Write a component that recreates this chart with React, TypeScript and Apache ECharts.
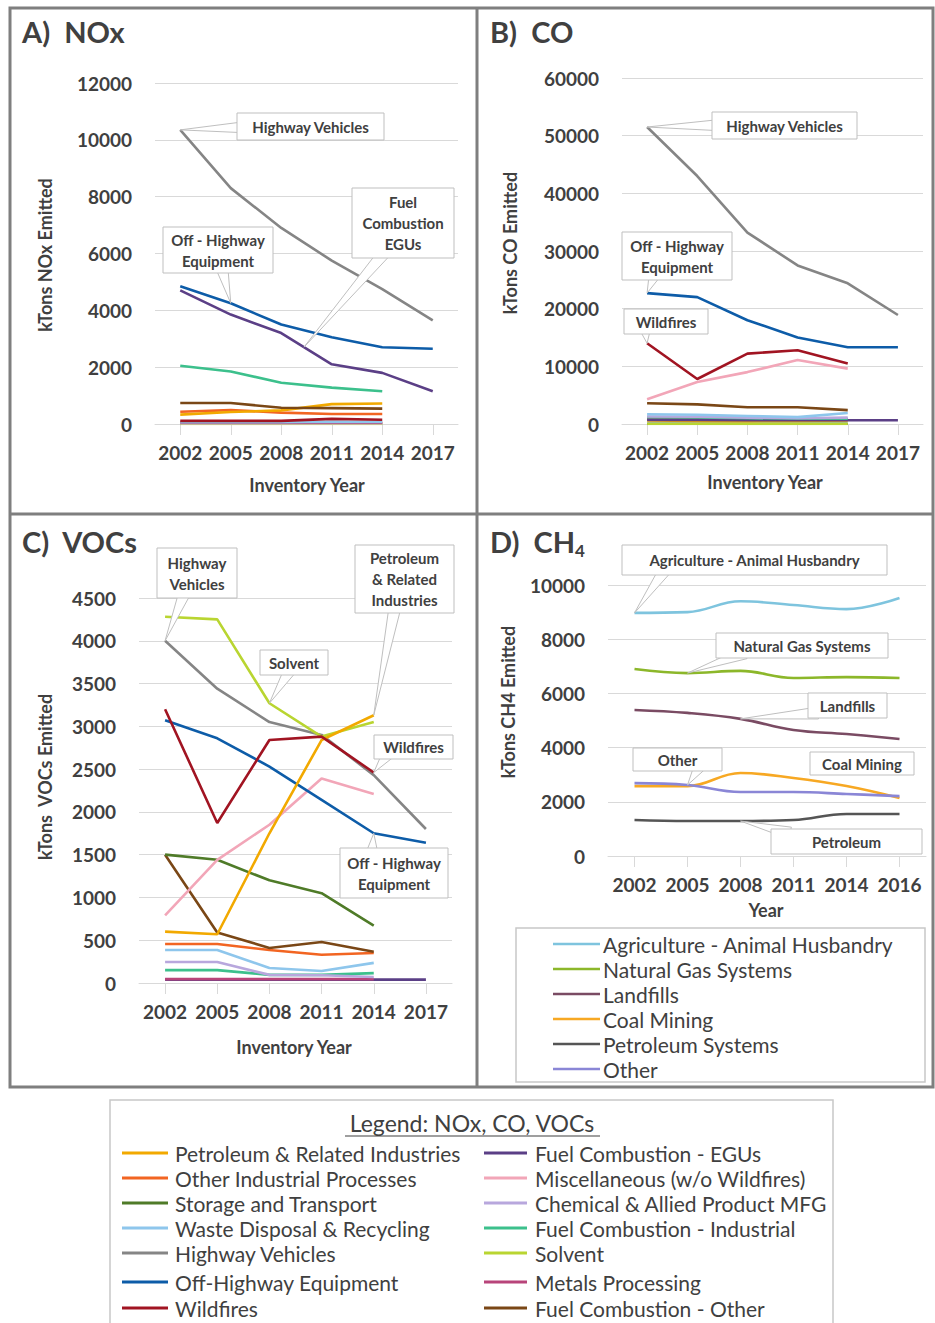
import React, { useEffect, useRef } from 'react';
import * as echarts from 'echarts';

// ---------- categories ----------
const yearsAC = ['2002', '2005', '2008', '2011', '2014', '2017'];
const yearsD = ['2002', '2005', '2008', '2011', '2014', '2016'];

// ---------- A) NOx (kTons) ----------
const noxPetroleum = [330, 420, 480, 700, 720];
const noxOtherInd = [430, 490, 400, 350, 350];
const noxStorage = [20, 20, 20, 20, 20];
const noxWaste = [60, 60, 60, 80, 70];
const noxHighway = [10350, 8300, 6900, 5750, 4750, 3650];
const noxOffHighway = [4850, 4250, 3500, 3050, 2700, 2650];
const noxWildfires = [110, 110, 110, 180, 150];
const noxEGU = [4700, 3850, 3200, 2100, 1800, 1150];
const noxMisc = [40, 40, 40, 40, 40];
const noxChemical = [30, 30, 30, 30, 30];
const noxIndustrial = [2050, 1850, 1450, 1280, 1150];
const noxSolvent = [5, 5, 5, 5, 5];
const noxMetals = [50, 50, 45, 45, 45];
const noxFuelOther = [740, 740, 570, 560, 540];

// ---------- B) CO (kTons) ----------
const coPetroleum = [600, 550, 500, 550, 600];
const coOtherInd = [800, 780, 700, 650, 700];
const coStorage = [50, 50, 50, 50, 50];
const coWaste = [1700, 1600, 1400, 1200, 1900];
const coHighway = [51500, 43000, 33200, 27500, 24400, 18900];
const coOffHighway = [22700, 22000, 18000, 15000, 13300, 13300];
const coWildfires = [14000, 7800, 12200, 12800, 10500];
const coEGU = [700, 700, 650, 650, 650, 650];
const coMisc = [4300, 7300, 9000, 11100, 9600];
const coChemical = [1300, 1250, 1100, 1000, 1100];
const coIndustrial = [1200, 1150, 1000, 950, 900];
const coSolvent = [10, 10, 10, 10, 10];
const coMetals = [1000, 950, 900, 850, 800];
const coFuelOther = [3600, 3400, 2900, 2900, 2400];

// ---------- C) VOCs (kTons) ----------
const vocPetroleum = [600, 570, 1750, 2840, 3130];
const vocOtherInd = [455, 455, 385, 330, 350];
const vocStorage = [1500, 1440, 1200, 1050, 670];
const vocWaste = [385, 385, 175, 140, 235];
const vocHighway = [4000, 3440, 3050, 2900, 2430, 1800];
const vocOffHighway = [3070, 2860, 2530, 2140, 1750, 1640];
const vocWildfires = [3200, 1870, 2840, 2880, 2460];
const vocEGU = [40, 40, 40, 40, 40, 40];
const vocMisc = [790, 1440, 1850, 2390, 2210];
const vocChemical = [245, 245, 95, 90, 70];
const vocIndustrial = [150, 150, 95, 95, 115];
const vocSolvent = [4280, 4250, 3270, 2880, 3050];
const vocMetals = [45, 45, 45, 45, 45];
const vocFuelOther = [1500, 590, 410, 480, 365];

// ---------- D) CH4 (kTons) ----------
const ch4Agriculture = [8970, 9000, 9400, 9260, 9110, 9520];
const ch4NaturalGas = [6900, 6750, 6830, 6570, 6600, 6570];
const ch4Landfills = [5390, 5280, 5060, 4650, 4500, 4320];
const ch4Coal = [2580, 2580, 3060, 2880, 2580, 2140];
const ch4Petroleum = [1330, 1290, 1290, 1330, 1550, 1550];
const ch4Other = [2690, 2620, 2360, 2360, 2290, 2210];

// ---------- names ----------
const legendCol1 = [
  'Petroleum & Related Industries',
  'Other Industrial Processes',
  'Storage and Transport',
  'Waste Disposal & Recycling',
  'Highway Vehicles',
  'Off-Highway Equipment',
  'Wildfires',
];
const legendCol2 = [
  'Fuel Combustion - EGUs',
  'Miscellaneous (w/o Wildfires)',
  'Chemical & Allied Product MFG',
  'Fuel Combustion - Industrial',
  'Solvent',
  'Metals Processing',
  'Fuel Combustion - Other',
];
const ch4Names = [
  'Agriculture - Animal Husbandry',
  'Natural Gas Systems',
  'Landfills',
  'Coal Mining',
  'Petroleum Systems',
  'Other',
];

const COLORS: Record<string, string> = {
  'Petroleum & Related Industries': '#f2a900',
  'Other Industrial Processes': '#f26522',
  'Storage and Transport': '#4f7b28',
  'Waste Disposal & Recycling': '#8ec6ec',
  'Highway Vehicles': '#858585',
  'Off-Highway Equipment': '#0d5ca8',
  'Wildfires': '#a11422',
  'Fuel Combustion - EGUs': '#5b3f86',
  'Miscellaneous (w/o Wildfires)': '#f2a6b8',
  'Chemical & Allied Product MFG': '#b8a7dd',
  'Fuel Combustion - Industrial': '#3cc08c',
  'Solvent': '#b9d531',
  'Metals Processing': '#b8447a',
  'Fuel Combustion - Other': '#7a4716',
  'Agriculture - Animal Husbandry': '#7ec4de',
  'Natural Gas Systems': '#8cb72a',
  'Landfills': '#7a4b63',
  'Coal Mining': '#f7a823',
  'Petroleum Systems': '#555555',
  'Other': '#8a86d6',
};

const noxData: [string, number[]][] = [
  ['Storage and Transport', noxStorage], ['Solvent', noxSolvent], ['Chemical & Allied Product MFG', noxChemical],
  ['Miscellaneous (w/o Wildfires)', noxMisc], ['Metals Processing', noxMetals], ['Waste Disposal & Recycling', noxWaste],
  ['Wildfires', noxWildfires], ['Other Industrial Processes', noxOtherInd], ['Petroleum & Related Industries', noxPetroleum],
  ['Fuel Combustion - Other', noxFuelOther], ['Fuel Combustion - Industrial', noxIndustrial],
  ['Fuel Combustion - EGUs', noxEGU], ['Off-Highway Equipment', noxOffHighway], ['Highway Vehicles', noxHighway],
];
const coData: [string, number[]][] = [
  ['Storage and Transport', coStorage], ['Solvent', coSolvent], ['Other Industrial Processes', coOtherInd],
  ['Petroleum & Related Industries', coPetroleum], ['Metals Processing', coMetals], ['Fuel Combustion - EGUs', coEGU],
  ['Fuel Combustion - Industrial', coIndustrial], ['Chemical & Allied Product MFG', coChemical],
  ['Waste Disposal & Recycling', coWaste], ['Fuel Combustion - Other', coFuelOther],
  ['Miscellaneous (w/o Wildfires)', coMisc], ['Wildfires', coWildfires],
  ['Off-Highway Equipment', coOffHighway], ['Highway Vehicles', coHighway],
];
const vocData: [string, number[]][] = [
  ['Fuel Combustion - EGUs', vocEGU], ['Metals Processing', vocMetals], ['Fuel Combustion - Industrial', vocIndustrial],
  ['Chemical & Allied Product MFG', vocChemical], ['Waste Disposal & Recycling', vocWaste],
  ['Other Industrial Processes', vocOtherInd], ['Fuel Combustion - Other', vocFuelOther],
  ['Storage and Transport', vocStorage], ['Miscellaneous (w/o Wildfires)', vocMisc],
  ['Off-Highway Equipment', vocOffHighway], ['Highway Vehicles', vocHighway],
  ['Solvent', vocSolvent], ['Petroleum & Related Industries', vocPetroleum], ['Wildfires', vocWildfires],
];
const ch4Data: [string, number[]][] = [
  ['Agriculture - Animal Husbandry', ch4Agriculture], ['Natural Gas Systems', ch4NaturalGas],
  ['Landfills', ch4Landfills], ['Coal Mining', ch4Coal], ['Petroleum Systems', ch4Petroleum], ['Other', ch4Other],
];

const FONT = 'Lato, "Open Sans", sans-serif';
const TXT = '#404040';
const GRIDLINE = '#d9d9d9';

const grids = [
  { left: 155, top: 83, width: 303, height: 341, max: 12000, interval: 2000, cats: yearsAC },
  { left: 622, top: 78, width: 301, height: 346, max: 60000, interval: 10000, cats: yearsAC },
  { left: 139, top: 598, width: 313, height: 385, max: 4500, interval: 500, cats: yearsAC },
  { left: 608, top: 585, width: 318, height: 271, max: 10000, interval: 2000, cats: yearsD },
];

type Ann = {
  g: number; lines: string[]; box: [number, number, number, number];
  anchor?: [number, number]; data?: number[]; i?: number; f?: number;
};
const annotations: Ann[] = [
  { g: 0, lines: ['Highway Vehicles'], box: [237, 113, 147, 27], anchor: [250, 127], data: noxHighway, i: 0 },
  { g: 0, lines: ['Off - Highway', 'Equipment'], box: [163, 227, 110, 46], anchor: [222, 268], data: noxOffHighway, i: 1 },
  { g: 0, lines: ['Fuel', 'Combustion', 'EGUs'], box: [352, 188, 102, 70], anchor: [385, 252], data: noxEGU, i: 2, f: 0.45 },
  { g: 1, lines: ['Highway Vehicles'], box: [712, 112, 145, 27], anchor: [725, 125], data: coHighway, i: 0 },
  { g: 1, lines: ['Off - Highway', 'Equipment'], box: [622, 232, 110, 48], anchor: [655, 274], data: coOffHighway, i: 0 },
  { g: 1, lines: ['Wildfires'], box: [624, 309, 84, 25], anchor: [645, 328], data: coWildfires, i: 0 },
  { g: 2, lines: ['Highway', 'Vehicles'], box: [157, 548, 80, 50], anchor: [185, 592], data: vocHighway, i: 0 },
  { g: 2, lines: ['Petroleum', '& Related', 'Industries'], box: [355, 545, 99, 68], anchor: [395, 607], data: vocPetroleum, i: 4 },
  { g: 2, lines: ['Solvent'], box: [260, 650, 68, 25], anchor: [290, 670], data: vocSolvent, i: 2 },
  { g: 2, lines: ['Wildfires'], box: [374, 735, 79, 24], anchor: [388, 754], data: vocWildfires, i: 4 },
  { g: 2, lines: ['Off - Highway', 'Equipment'], box: [340, 848, 108, 50], anchor: [372, 853], data: vocOffHighway, i: 4 },
  { g: 3, lines: ['Agriculture - Animal Husbandry'], box: [622, 545, 265, 30], anchor: [665, 570], data: ch4Agriculture, i: 0 },
  { g: 3, lines: ['Natural Gas Systems'], box: [716, 633, 172, 25], anchor: [745, 653], data: ch4NaturalGas, i: 1 },
  { g: 3, lines: ['Landfills'], box: [808, 693, 79, 25], anchor: [818, 713], data: ch4Landfills, i: 2 },
  { g: 3, lines: ['Other'], box: [633, 748, 89, 23], anchor: [700, 766], data: ch4Other, i: 1 },
  { g: 3, lines: ['Coal Mining'], box: [810, 752, 104, 23] },
  { g: 3, lines: ['Petroleum'], box: [771, 829, 151, 25], anchor: [790, 833], data: ch4Petroleum, i: 2 },
];

function txt(text: string, x: number, y: number, size: number, weight: string, align = 'left', rotation = 0, z = 50) {
  return {
    type: 'text', x, y, rotation, z, silent: true,
    style: { text, fill: TXT, fontSize: size, fontWeight: weight, fontFamily: FONT, align, verticalAlign: 'middle' },
  };
}

export default function App() {
  const ref = useRef<HTMLDivElement>(null);
  useEffect(() => {
    if (!ref.current) return;
    const chart = echarts.init(ref.current, undefined, { renderer: 'svg' });

    const series: any[] = [];
    const addSeries = (g: number, list: [string, number[]][], smooth: boolean) => {
      list.forEach(([name, data]) => {
        series.push({
          type: 'line', name, xAxisIndex: g, yAxisIndex: g, data, symbol: 'none', silent: true,
          smooth: smooth ? 0.4 : false,
          lineStyle: { color: COLORS[name], width: 2.6 }, itemStyle: { color: COLORS[name] },
        });
      });
    };
    addSeries(0, noxData, false);
    addSeries(1, coData, false);
    addSeries(2, vocData, false);
    addSeries(3, ch4Data, true);

    const option: any = {
      animation: false,
      backgroundColor: '#ffffff',
      grid: grids.map((g) => ({ left: g.left, top: g.top, width: g.width, height: g.height, containLabel: false })),
      xAxis: grids.map((g, i) => ({
        type: 'category', gridIndex: i, data: g.cats, boundaryGap: true,
        axisLine: { show: true, lineStyle: { color: GRIDLINE, width: 1 } },
        axisTick: { show: true, alignWithLabel: true, length: 11, lineStyle: { color: GRIDLINE } },
        axisLabel: { interval: 0, margin: 19, color: TXT, fontSize: 19, fontWeight: 'bold', fontFamily: FONT },
        splitLine: { show: false },
      })),
      yAxis: grids.map((g, i) => ({
        type: 'value', gridIndex: i, min: 0, max: g.max, interval: g.interval,
        axisLine: { show: false }, axisTick: { show: false },
        axisLabel: {
          margin: 23, color: TXT, fontSize: 19, fontWeight: 'bold', fontFamily: FONT,
          formatter: (v: number) => String(v),
        },
        splitLine: { show: true, lineStyle: { color: GRIDLINE, width: 1 } },
      })),
      series,
    };
    chart.setOption(option);

    const graphic: any[] = [];
    // frames
    const frameStyle = { stroke: '#7f7f7f', lineWidth: 3, fill: 'none' };
    graphic.push({ type: 'rect', shape: { x: 10, y: 8, width: 923, height: 1079 }, style: frameStyle, z: 60, silent: true });
    graphic.push({ type: 'line', shape: { x1: 477, y1: 8, x2: 477, y2: 1087 }, style: frameStyle, z: 60, silent: true });
    graphic.push({ type: 'line', shape: { x1: 10, y1: 514, x2: 933, y2: 514 }, style: frameStyle, z: 60, silent: true });

    // titles
    graphic.push(txt('A)  NOx', 22, 31, 29, 'bold'));
    graphic.push(txt('B)  CO', 490, 31, 29, 'bold'));
    graphic.push(txt('C)  VOCs', 22, 541, 29, 'bold'));
    graphic.push(txt('D)  CH', 490, 541, 29, 'bold'));
    graphic.push(txt('4', 575, 550, 17, 'bold'));

    // axis names
    graphic.push(txt('kTons NOx Emitted', 45, 255, 18, 'bold', 'center', Math.PI / 2));
    graphic.push(txt('Inventory Year', 307, 485, 18, 'bold', 'center'));
    graphic.push(txt('kTons CO Emitted', 510, 243, 18, 'bold', 'center', Math.PI / 2));
    graphic.push(txt('Inventory Year', 765, 482, 18, 'bold', 'center'));
    graphic.push(txt('kTons  VOCs Emitted', 45, 777, 18, 'bold', 'center', Math.PI / 2));
    graphic.push(txt('Inventory Year', 294, 1047, 18, 'bold', 'center'));
    graphic.push(txt('kTons CH4 Emitted', 508, 702, 18, 'bold', 'center', Math.PI / 2));
    graphic.push(txt('Year', 766, 910, 18, 'bold', 'center'));

    // annotations (callouts pointing at data points)
    annotations.forEach((a) => {
      const [bx, by, bw, bh] = a.box;
      if (a.data && a.anchor) {
        const i = a.i || 0;
        let p = chart.convertToPixel({ gridIndex: a.g } as any, [i, a.data[i]]) as number[];
        if (a.f) {
          const q = chart.convertToPixel({ gridIndex: a.g } as any, [i + 1, a.data[i + 1]]) as number[];
          p = [p[0] + (q[0] - p[0]) * a.f, p[1] + (q[1] - p[1]) * a.f];
        }
        const [ax, ay] = a.anchor;
        const dx = p[0] - ax, dy = p[1] - ay;
        const len = Math.sqrt(dx * dx + dy * dy) || 1;
        const nx = -dy / len * 6, ny = dx / len * 6;
        graphic.push({
          type: 'polygon', z: 100, silent: true,
          shape: { points: [[ax + nx, ay + ny], [p[0], p[1]], [ax - nx, ay - ny]] },
          style: { fill: '#ffffff', stroke: '#bfbfbf', lineWidth: 1 },
        });
      }
      graphic.push({
        type: 'rect', z: 101, silent: true, shape: { x: bx, y: by, width: bw, height: bh },
        style: { fill: '#ffffff', stroke: '#bfbfbf', lineWidth: 1 },
      });
      const lh = 21;
      const y0 = by + bh / 2 - ((a.lines.length - 1) * lh) / 2;
      a.lines.forEach((ln, k) => {
        graphic.push(txt(ln, bx + bw / 2, y0 + k * lh, 15, 'bold', 'center', 0, 102));
      });
    });

    // CH4 legend box
    graphic.push({
      type: 'rect', z: 40, silent: true, shape: { x: 516, y: 928, width: 409, height: 154 },
      style: { fill: '#ffffff', stroke: '#c8c8c8', lineWidth: 1.5 },
    });
    ch4Names.forEach((n, k) => {
      const y = 944 + k * 25;
      graphic.push({ type: 'line', z: 41, silent: true, shape: { x1: 553, y1: y, x2: 600, y2: y }, style: { stroke: COLORS[n], lineWidth: 2.6 } });
      graphic.push(txt(n, 603, y, 21, 'normal', 'left', 0, 41));
    });

    // bottom legend box
    graphic.push({
      type: 'rect', z: 40, silent: true, shape: { x: 110, y: 1100, width: 723, height: 240 },
      style: { fill: '#ffffff', stroke: '#c8c8c8', lineWidth: 1.5 },
    });
    graphic.push(txt('Legend: NOx, CO, VOCs', 472, 1123, 23, 'normal', 'center', 0, 41));
    graphic.push({ type: 'line', z: 41, silent: true, shape: { x1: 345, y1: 1136, x2: 600, y2: 1136 }, style: { stroke: TXT, lineWidth: 1.2 } });
    const rowsY = [1153, 1178, 1203, 1228, 1253, 1282, 1308];
    legendCol1.forEach((n, k) => {
      const y = rowsY[k];
      graphic.push({ type: 'line', z: 41, silent: true, shape: { x1: 122, y1: y, x2: 168, y2: y }, style: { stroke: COLORS[n], lineWidth: 3 } });
      graphic.push(txt(n, 175, y, 21, 'normal', 'left', 0, 41));
    });
    legendCol2.forEach((n, k) => {
      const y = rowsY[k];
      graphic.push({ type: 'line', z: 41, silent: true, shape: { x1: 484, y1: y, x2: 527, y2: y }, style: { stroke: COLORS[n], lineWidth: 3 } });
      graphic.push(txt(n, 535, y, 21, 'normal', 'left', 0, 41));
    });

    chart.setOption({ graphic });

    return () => chart.dispose();
  }, []);

  return <div ref={ref} style={{ position: 'absolute', left: 0, top: 0, width: 935, height: 1323 }} />;
}
